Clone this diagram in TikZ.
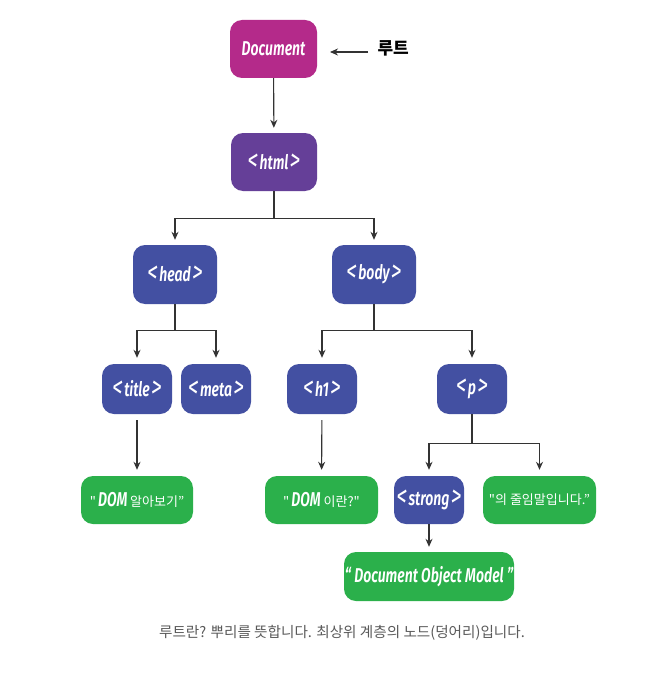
\documentclass[tikz,border=0pt]{standalone}
\usepackage{fontspec}
\setmainfont{Noto Sans CJK KR}
\newfontfamily\tagfam[FakeStretch=0.7, BoldItalicFont={Fira Sans SemiBold Italic}]{Fira Sans}
\newfontfamily\krfam{Noto Sans CJK KR}
\usetikzlibrary{arrows.meta}
\definecolor{cmag}{HTML}{B42A8A}
\definecolor{cpur}{HTML}{653F98}
\definecolor{cblu}{HTML}{4350A2}
\definecolor{cgrn}{HTML}{2BB04B}
\definecolor{cline}{HTML}{333333}
\definecolor{ccap}{HTML}{5A5A5A}
\newcommand\tagtext{\tagfam\bfseries\itshape\fontsize{20}{20}\selectfont}
\newcommand\krtext{\krfam\fontsize{13}{13}\selectfont}
\newcommand\tg[1]{\raisebox{-1.2pt}{\scalebox{1.5}{\mdseries<}}\kern1.5pt#1\kern1.5pt\raisebox{-1.2pt}{\scalebox{1.5}{\mdseries>}}}
\begin{document}
\begin{tikzpicture}[x=1pt,y=-1pt,
  box/.style={rounded corners=12pt, inner sep=0pt, text=white, align=center},
  tagbox/.style={box, fill=cblu, font=\tagtext},
  grnbox/.style={box, fill=cgrn, font=\krtext},
  conn/.style={draw=cline, line width=1.1pt, -{Stealth[length=8pt,width=7pt]}}]
\useasboundingbox (0,0) rectangle (670,674);
\fill[white] (0,0) rectangle (670,674);
\node[tagbox, fill=cmag, minimum width=87pt, minimum height=58pt] (doc) at (273.5,49) {Document};
\node[tagbox, fill=cpur, minimum width=86pt, minimum height=58pt] (html) at (274,162) {\tg{html}};
\node[tagbox, minimum width=84pt, minimum height=59pt] (head) at (175,274.5) {\tg{head}};
\node[tagbox, minimum width=84pt, minimum height=59pt] (body) at (374,274.5) {\tg{body}};
\node[tagbox, minimum width=70pt, minimum height=50pt] (title) at (137,389) {\tg{title}};
\node[tagbox, minimum width=70pt, minimum height=50pt] (meta) at (216,389) {\tg{meta}};
\node[tagbox, minimum width=70pt, minimum height=50pt] (h1) at (322,389) {\tg{h1}};
\node[tagbox, minimum width=70pt, minimum height=50pt] (p) at (472,389) {\tg{p}};
\node[grnbox, minimum width=112pt, minimum height=48pt] (g1) at (137,500) {"\,{\tagtext DOM} 알아보기”};
\node[grnbox, minimum width=113pt, minimum height=48pt] (g2) at (321.5,500) {"\,{\tagtext DOM} 이란?"};
\node[tagbox, minimum width=70pt, minimum height=48pt] (strong) at (429,500) {\tg{strong}};
\node[grnbox, minimum width=113pt, minimum height=48pt] (g3) at (539.5,500) {"의 줄임말입니다.”};
\node[grnbox, minimum width=170pt, minimum height=49pt, font=\tagtext] (g4) at (429,576.5) {“\,Document Object Model\,”};
\node[font=\krfam\bfseries\fontsize{17}{17}\selectfont, anchor=west] (rt) at (374,48) {루트};
\node[font=\krfam\fontsize{14.6}{14.6}\selectfont, text=ccap] (cap) at (342,633) {루트란? 뿌리를 뜻합니다. 최상위 계층의 노드(덩어리)입니다.};
\coordinate (rtend) at (330,52);
\draw[conn] ([xshift=-6pt]rt.west |- rtend) -- (rtend);
\draw[conn, shorten >=5pt] (doc) -- (html);
\draw[conn, shorten >=5pt] (html.south) -- ++(0,27) -| (head.north);
\draw[conn, shorten >=5pt] (html.south) -- ++(0,27) -| (body.north);
\draw[conn, shorten >=6pt] (head.south) -- ++(0,26) -| (title.north);
\draw[conn, shorten >=6pt] (head.south) -- ++(0,26) -| (meta.north);
\draw[conn, shorten >=6pt] (body.south) -- ++(0,26) -| (h1.north);
\draw[conn, shorten >=6pt] (body.south) -- ++(0,26) -| (p.north);
\draw[conn, shorten <=6pt, shorten >=6pt] (title) -- (g1);
\draw[conn, shorten <=6pt, shorten >=6pt] (h1) -- (g2);
\draw[conn, shorten >=6pt] (p.south) -- ++(0,29) -| (strong.north);
\draw[conn, shorten >=6pt] (p.south) -- ++(0,29) -| (g3.north);
\draw[conn, shorten >=5pt] (strong) -- (g4);
\end{tikzpicture}
\end{document}
